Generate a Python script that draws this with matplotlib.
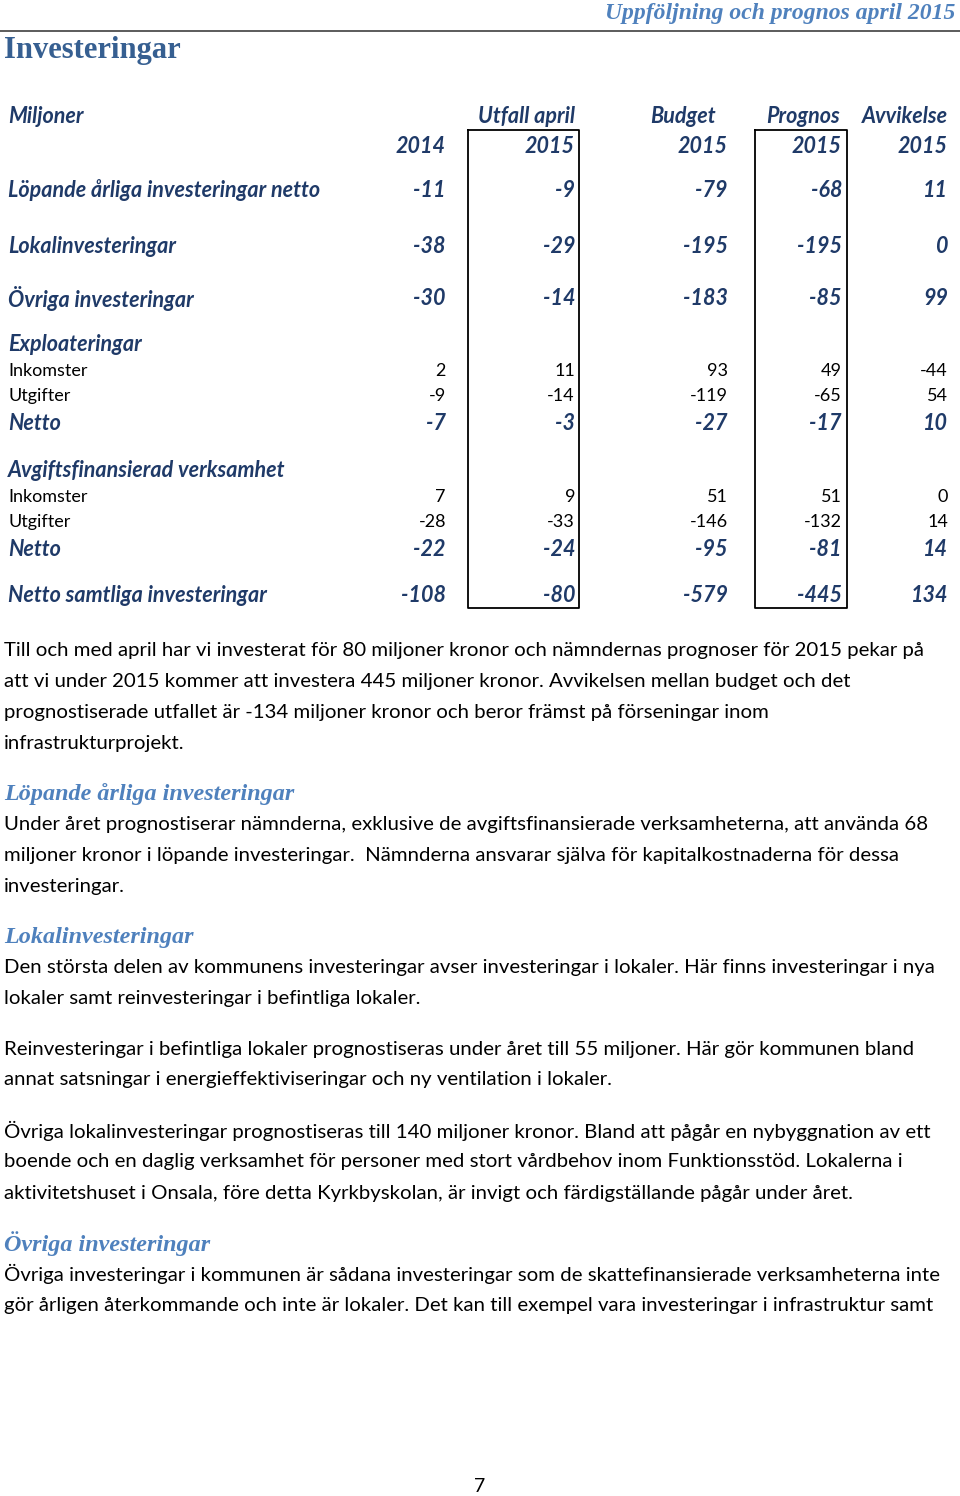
import matplotlib.pyplot as plt

# tabellen
row_labels = ["Löpande årliga investeringar netto", "Lokalinvesteringar", "Övriga investeringar",
              "Exploateringar", "Inkomster", "Utgifter", "Netto",
              "Avgiftsfinansierad verksamhet", "Inkomster", "Utgifter", "Netto",
              "Netto samtliga investeringar"]
row_bold = [True, True, True, True, False, False, True, True, False, False, True, True]
row_y = [190, 246, 298, 344, 371, 396, 423, 470, 497, 522, 549, 595]

col_head1 = ["", "Utfall april", "Budget", "Prognos", "Avvikelse"]
col_head2 = ["2014", "2015", "2015", "2015", "2015"]
utfall_2014 = [-11, -38, -30, None, 2, -9, -7, None, 7, -28, -22, -108]
utfall_april_2015 = [-9, -29, -14, None, 11, -14, -3, None, 9, -33, -24, -80]
budget_2015 = [-79, -195, -183, None, 93, -119, -27, None, 51, -146, -95, -579]
prognos_2015 = [-68, -195, -85, None, 49, -65, -17, None, 51, -132, -81, -445]
avvikelse_2015 = [11, 0, 99, None, -44, 54, 10, None, 0, 14, 14, 134]
columns = [utfall_2014, utfall_april_2015, budget_2015, prognos_2015, avvikelse_2015]

# brödtext
intro = ["Till och med april har vi investerat för 80 miljoner kronor och nämndernas prognoser för 2015 pekar på",
         "att vi under 2015 kommer att investera 445 miljoner kronor. Avvikelsen mellan budget och det",
         "prognostiserade utfallet är -134 miljoner kronor och beror främst på förseningar inom",
         "infrastrukturprojekt."]
sections = [
    ("Löpande årliga investeringar", 794, [
        "Under året prognostiserar nämnderna, exklusive de avgiftsfinansierade verksamheterna, att använda 68",
        "miljoner kronor i löpande investeringar.  Nämnderna ansvarar själva för kapitalkostnaderna för dessa",
        "investeringar."]),
    ("Lokalinvesteringar", 937, [
        "Den största delen av kommunens investeringar avser investeringar i lokaler. Här finns investeringar i nya",
        "lokaler samt reinvesteringar i befintliga lokaler.",
        None,
        "Reinvesteringar i befintliga lokaler prognostiseras under året till 55 miljoner. Här gör kommunen bland",
        "annat satsningar i energieffektiviseringar och ny ventilation i lokaler.",
        None,
        "Övriga lokalinvesteringar prognostiseras till 140 miljoner kronor. Bland att pågår en nybyggnation av ett",
        "boende och en daglig verksamhet för personer med stort vårdbehov inom Funktionsstöd. Lokalerna i",
        "aktivitetshuset i Onsala, före detta Kyrkbyskolan, är invigt och färdigställande pågår under året."]),
    ("Övriga investeringar", 1244, [
        "Övriga investeringar i kommunen är sådana investeringar som de skattefinansierade verksamheterna inte",
        "gör årligen återkommande och inte är lokaler. Det kan till exempel vara investeringar i infrastruktur samt"]),
]

navy = "#1f3a68"
blue = "#4f81bd"
dark_blue = "#365f91"
serif = "Liberation Serif"
sans = "Lato"

fig = plt.figure(figsize=(9.6, 14.96), dpi=100)
ax = fig.add_axes([0, 0, 1, 1])
ax.set_xlim(0, 960)
ax.set_ylim(1496, 0)
ax.axis("off")

# sidhuvud
ax.text(955, 13, "Uppföljning och prognos april 2015", ha="right", va="center",
        fontsize=17, style="italic", fontweight="bold", color=blue, family=serif)
ax.plot([0, 960], [31, 31], color="#404040", lw=1.2)
ax.text(4, 50, "Investeringar", ha="left", va="center", fontsize=22,
        fontweight="bold", color=dark_blue, family=serif)

# tabellhuvud
col_x = [446, 575, 728, 842, 948]
head1_x = [446, 575, 716, 840, 948]
big = dict(fontsize=15.5, style="italic", fontweight="bold", color=navy, family=sans)
ax.text(8, 116, "Miljoner", ha="left", va="center", **big)
for x, h1, x2, h2 in zip(head1_x, col_head1, col_x, col_head2):
    ax.text(x, 116, h1, ha="right", va="center", **big)
    ax.text(x2, 146, h2, ha="right", va="center", **big)

# ramar runt utfall och prognos
for x0, x1 in [(468, 579), (755, 847)]:
    ax.plot([x0, x1, x1, x0, x0], [130, 130, 608, 608, 130], color="black", lw=1.3)

small = dict(fontsize=13, color="black", family=sans)
for i, (label, y, bold) in enumerate(zip(row_labels, row_y, row_bold)):
    kw = big if bold else small
    ax.text(8, y, label, ha="left", va="center", **kw)
    for x, col in zip(col_x, columns):
        if col[i] is not None:
            ax.text(x, y, str(col[i]), ha="right", va="center", **kw)

# text
body = dict(fontsize=14.7, color="black", family=sans, ha="left", va="center")
for k, line in enumerate(intro):
    ax.text(4, 650 + 31 * k, line, **body)

for title, y, lines in sections:
    ax.text(4, y, title, ha="left", va="center", fontsize=17.4, style="italic",
            fontweight="bold", color=blue, family=serif)
    yy = y + 30
    for line in lines:
        if line is not None:
            ax.text(4, yy, line, **body)
        yy += 20 if line is None else 31

ax.text(480, 1487, "7", ha="center", va="center", fontsize=14, color="black", family=sans)

fig.savefig("out.png", dpi=100)
